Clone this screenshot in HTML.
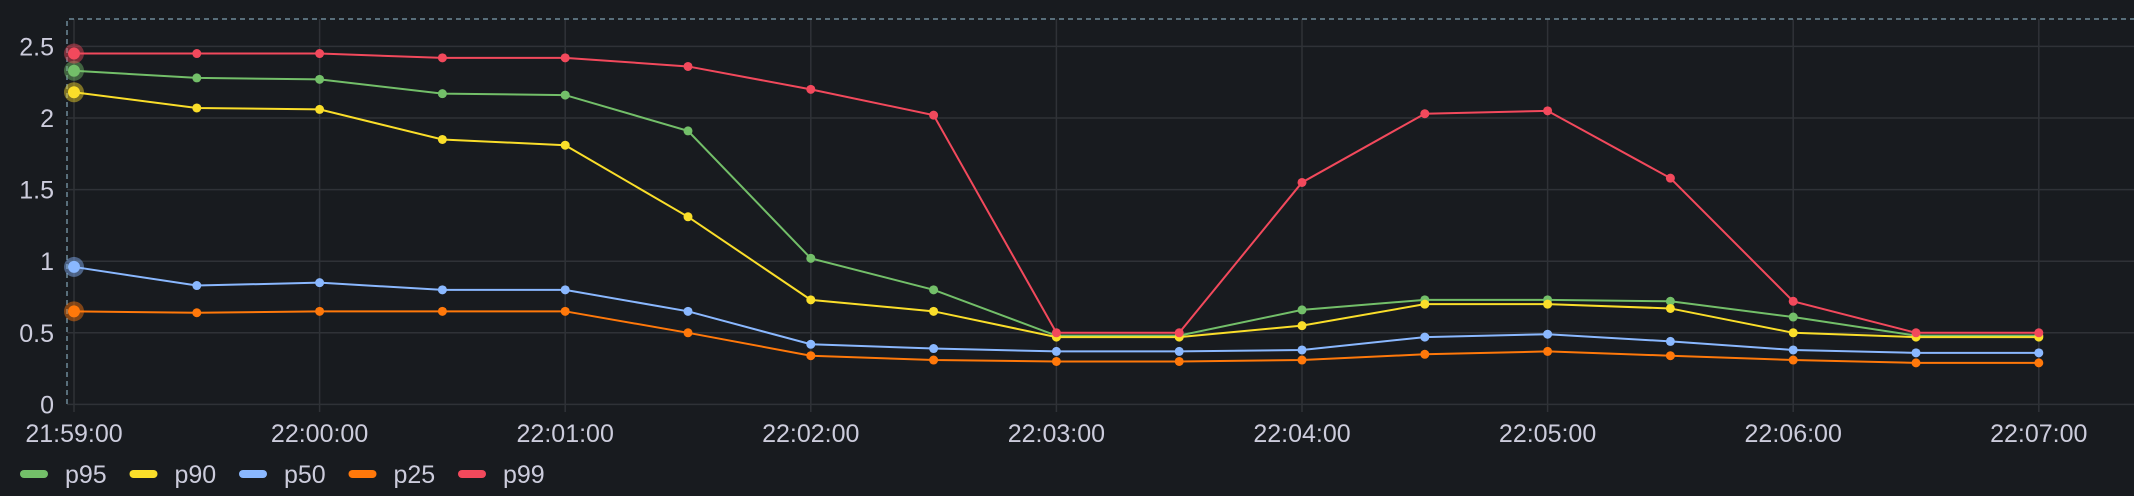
<!DOCTYPE html>
<html><head><meta charset="utf-8"><style>
html,body{margin:0;padding:0;background:#181b1f;width:2134px;height:496px;overflow:hidden}
svg{display:block;font-family:"Liberation Sans",sans-serif}
</style></head><body>
<svg id="chart" width="2134" height="496"></svg>
<script>
const times=["21:59:00","21:59:30","22:00:00","22:00:30","22:01:00","22:01:30","22:02:00","22:02:30","22:03:00","22:03:30","22:04:00","22:04:30","22:05:00","22:05:30","22:06:00","22:06:30","22:07:00"];
const xTickLabels=["21:59:00","22:00:00","22:01:00","22:02:00","22:03:00","22:04:00","22:05:00","22:06:00","22:07:00"];
const yTicks=[0,0.5,1,1.5,2,2.5];
const seriesNames=["p95","p90","p50","p25","p99"];
const p95=[2.33,2.28,2.27,2.17,2.16,1.91,1.02,0.8,0.48,0.48,0.66,0.73,0.73,0.72,0.61,0.48,0.48];
const p90=[2.18,2.07,2.06,1.85,1.81,1.31,0.73,0.65,0.47,0.47,0.55,0.7,0.7,0.67,0.5,0.47,0.47];
const p50=[0.96,0.83,0.85,0.8,0.8,0.65,0.42,0.39,0.37,0.37,0.38,0.47,0.49,0.44,0.38,0.36,0.36];
const p25=[0.65,0.64,0.65,0.65,0.65,0.5,0.34,0.31,0.3,0.3,0.31,0.35,0.37,0.34,0.31,0.29,0.29];
const p99=[2.45,2.45,2.45,2.42,2.42,2.36,2.2,2.02,0.5,0.5,1.55,2.03,2.05,1.58,0.72,0.5,0.5];
const colors={p95:"#73bf69",p90:"#fade2a",p50:"#8ab8ff",p25:"#ff780a",p99:"#f2495c"};
const values={p95,p90,p50,p25,p99};
const NS="http://www.w3.org/2000/svg";
const svg=document.getElementById("chart");
const x=i=>74+i*122.8;
const y=v=>404.4-v*143.2;
function el(t,a,p){const e=document.createElementNS(NS,t);for(const k in a)e.setAttribute(k,a[k]);(p||svg).appendChild(e);return e;}
yTicks.forEach(v=>{
  const g=el("line",{x1:67,x2:2134,y1:y(v),y2:y(v),stroke:"#2f3237","stroke-width":1.5});
  
  
  const t=el("text",{x:54,y:y(v)+9,"text-anchor":"end",fill:"#ccccdc","font-size":25});
  t.textContent=String(v);
  
  
});
xTickLabels.forEach((lab,i)=>{
  const xi=x(i*2);
  const g=el("line",{x1:xi,x2:xi,y1:19,y2:412,stroke:"#2f3237","stroke-width":1.5});
  
  
  const t=el("text",{x:xi,y:442,"text-anchor":"middle",fill:"#ccccdc","font-size":25});
  t.textContent=lab;
  
  
});
const b=el("path",{d:"M67 404 L67 19 L2134 19",fill:"none",stroke:"#6e8a99","stroke-width":1.5,"stroke-dasharray":"5 4"});


seriesNames.forEach(n=>{
  const vals=values[n],c=colors[n];
  const g=el("g",{});
  
  
  el("polyline",{points:vals.map((v,i)=>x(i)+","+y(v)).join(" "),fill:"none",stroke:c,"stroke-width":2},g);
  vals.forEach((v,i)=>{
    if(i===0){el("circle",{cx:x(i),cy:y(v),r:10,fill:c,"fill-opacity":0.45},g);}
    const p=el("circle",{cx:x(i),cy:y(v),r:i===0?6:4.5,fill:c},g);
    
    
  });
});
let lx=20;
seriesNames.forEach(n=>{
  const g=el("g",{});
  
  
  el("rect",{x:lx,y:470,width:28,height:8,rx:4,fill:colors[n]},g);
  const t=el("text",{x:lx+45,y:483,fill:"#ccccdc","font-size":25},g);
  t.textContent=n;
  lx+=109.5;
});
</script>
</body></html>
